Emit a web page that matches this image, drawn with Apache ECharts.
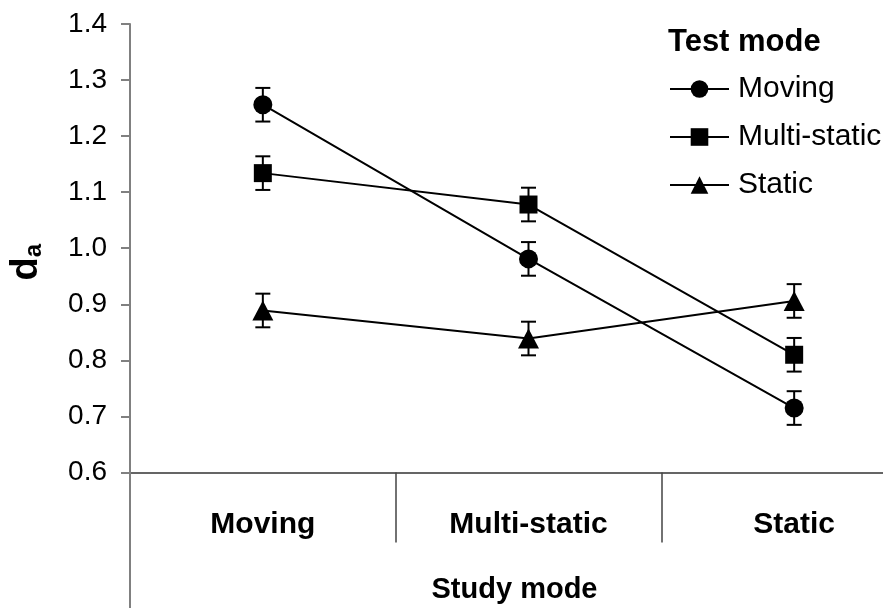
<!DOCTYPE html>
<html>
<head>
<meta charset="utf-8">
<script src="https://cdn.jsdelivr.net/npm/echarts@6/dist/echarts.min.js"></script>
<style>
html,body{margin:0;padding:0;background:#fff;}
#chart{width:883px;height:608px;}
</style>
</head>
<body>
<div id="chart"></div>
<script>
// ---- data ----
const categories = ['Moving', 'Multi-static', 'Static'];
const seriesNames = ['Moving', 'Multi-static', 'Static'];
const movingValues = [1.256, 0.981, 0.715];
const multiStaticValues = [1.134, 1.078, 0.810];
const staticValues = [0.889, 0.839, 0.906];
const movingErrors = [0.030, 0.030, 0.030];
const multiStaticErrors = [0.030, 0.030, 0.030];
const staticErrors = [0.030, 0.030, 0.030];
const yMin = 0.6, yMax = 1.4, yStep = 0.1;
const legendTitle = 'Test mode';
const xTitle = 'Study mode';

const FONT = '"Liberation Sans", Arial, sans-serif';
const symbols = ['circle', 'rect', 'triangle'];
const symbolSizes = [19, 18, [21, 20]];
const valueSets = [movingValues, multiStaticValues, staticValues];
const errorSets = [movingErrors, multiStaticErrors, staticErrors];

function errRender(params, api) {
  const x = api.value(0), v = api.value(1), e = api.value(2);
  const top = api.coord([x, v + e]);
  const bot = api.coord([x, v - e]);
  const hw = 7.5;
  const st = { stroke: '#000', lineWidth: 2 };
  return {
    type: 'group',
    children: [
      { type: 'line', shape: { x1: top[0], y1: top[1], x2: bot[0], y2: bot[1] }, style: st },
      { type: 'line', shape: { x1: top[0] - hw, y1: top[1], x2: top[0] + hw, y2: top[1] }, style: st },
      { type: 'line', shape: { x1: bot[0] - hw, y1: bot[1], x2: bot[0] + hw, y2: bot[1] }, style: st }
    ]
  };
}

const series = [];
seriesNames.forEach((name, i) => {
  series.push({
    name: 'err-' + name,
    type: 'custom',
    renderItem: errRender,
    data: valueSets[i].map((v, k) => [k, v, errorSets[i][k]]),
    z: 2,
    silent: true
  });
});
seriesNames.forEach((name, i) => {
  series.push({
    name: name,
    type: 'line',
    data: valueSets[i],
    symbol: symbols[i],
    symbolSize: symbolSizes[i],
    showAllSymbol: true,
    lineStyle: { color: '#000', width: 2 },
    itemStyle: { color: '#000', borderWidth: 0 },
    z: 3,
    animation: false
  });
});

const chart = echarts.init(document.getElementById('chart'));
chart.setOption({
  animation: false,
  backgroundColor: '#fff',
  textStyle: { fontFamily: FONT },
  title: {
    text: legendTitle,
    left: 668, top: 27, padding: 0,
    textStyle: { fontFamily: FONT, fontSize: 31, fontWeight: 'bold', color: '#000' }
  },
  legend: {
    data: seriesNames,
    orient: 'vertical',
    left: 669, top: 74, padding: 0,
    itemWidth: 59, itemHeight: 22, itemGap: 18,
    textStyle: { fontFamily: FONT, fontSize: 30, color: '#000', padding: [0, 0, 0, 4] }
  },
  grid: { left: 130, top: 24, width: 797, height: 448.5, containLabel: false, outerBoundsMode: 'none' },
  xAxis: {
    type: 'category',
    data: categories,
    boundaryGap: true,
    axisLine: { show: true, lineStyle: { color: '#333', width: 1.5 } },
    axisTick: { show: true, interval: 0, length: 70, inside: false, lineStyle: { color: '#444', width: 1.5 } },
    axisLabel: { interval: 0, margin: 37, fontFamily: FONT, fontSize: 30, fontWeight: 'bold', color: '#000' },
    name: xTitle,
    nameLocation: 'middle',
    nameGap: 103,
    nameTextStyle: { fontFamily: FONT, fontSize: 29, fontWeight: 'bold', color: '#000', padding: [0, 28, 0, 0] },
    splitLine: { show: false }
  },
  yAxis: {
    type: 'value',
    min: yMin, max: yMax, interval: yStep,
    axisLine: { show: true, lineStyle: { color: '#808080', width: 2 } },
    axisTick: { show: true, length: 9, lineStyle: { color: '#808080', width: 2 } },
    axisLabel: { margin: 23, fontFamily: FONT, fontSize: 28, color: '#000', formatter: v => v.toFixed(1) },
    splitLine: { show: false },
    name: '{d|d}{a|a}',
    nameLocation: 'middle',
    nameRotate: 90,
    nameGap: 84,
    nameTextStyle: {
      padding: [0, 28, 0, 0],
      rich: {
        d: { fontFamily: FONT, fontSize: 38, fontWeight: 'bold', color: '#000', verticalAlign: 'bottom' },
        a: { fontFamily: FONT, fontSize: 24, fontWeight: 'bold', color: '#000', verticalAlign: 'bottom' }
      }
    }
  },
  graphic: [
    { type: 'line', z: 10, shape: { x1: 130, y1: 472, x2: 130, y2: 608 }, style: { stroke: '#808080', lineWidth: 2 } }
  ],
  series: series
});
</script>
</body>
</html>
